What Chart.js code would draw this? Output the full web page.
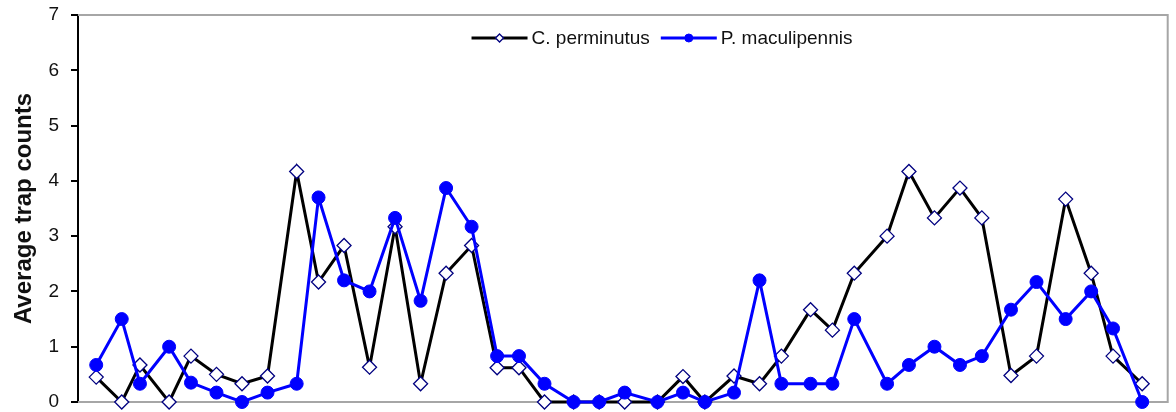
<!DOCTYPE html>
<html>
<head>
<meta charset="utf-8">
<title>Average trap counts</title>
<script src="https://cdn.jsdelivr.net/npm/chart.js@4/dist/chart.umd.min.js"></script>
<style>
  html, body { margin: 0; padding: 0; background: #ffffff; }
  #wrap { width: 1176px; height: 412px; }
</style>
</head>
<body>
<div id="wrap"><canvas id="trapChart" width="1176" height="412"></canvas></div>
<script>
// Sampling day of each trap collection (days from the first collection)
const sampleDays = [0, 7, 12, 20, 26, 33, 40, 47, 55, 61, 68, 75, 82, 89, 96, 103, 110, 116, 123, 131,
  138, 145, 154, 161, 167, 175, 182, 188, 196, 202, 208, 217, 223, 230, 237, 243, 251, 258, 266, 273, 279, 287];

// Average trap counts per collection
const cPerminutus = [0.45, 0, 0.67, 0, 0.83, 0.5, 0.33, 0.47, 4.17, 2.17, 2.83, 0.63, 3.17, 0.33, 2.33, 2.83, 0.62, 0.62, 0, 0,
  0, 0, 0, 0.46, 0, 0.47, 0.33, 0.83, 1.67, 1.3, 2.33, 3.0, 4.17, 3.33, 3.87, 3.33, 0.48, 0.83, 3.67, 2.33, 0.83, 0.33];
const pMaculipennis = [0.67, 1.5, 0.33, 1.0, 0.35, 0.17, 0, 0.17, 0.33, 3.7, 2.2, 2.0, 3.33, 1.83, 3.87, 3.17, 0.83, 0.83, 0.33, 0,
  0, 0.17, 0, 0.17, 0, 0.17, 2.2, 0.33, 0.33, 0.33, 1.5, 0.33, 0.67, 1.0, 0.67, 0.83, 1.67, 2.17, 1.5, 2.0, 1.33, 0];

const seriesNames = ['C. perminutus', 'P. maculipennis'];
const yTicks = [0, 1, 2, 3, 4, 5, 6, 7];
const yTitle = 'Average trap counts';

const FONT = "'Liberation Sans', Arial, Helvetica, sans-serif";
const BLACK_LINE = '#000000';
const DIAMOND_EDGE = '#000080';
const BLUE = '#0000ff';
const FRAME = '#a6a6a6';

const toPoints = vals => sampleDays.map((d, i) => ({ x: d, y: vals[i] }));

// Grey frame on the top, right and bottom of the plot area
const framePlugin = {
  id: 'plotFrame',
  beforeDatasetsDraw(chart) {
    const { ctx, chartArea: a } = chart;
    ctx.save();
    ctx.strokeStyle = FRAME;
    ctx.lineWidth = 2;
    ctx.beginPath();
    ctx.moveTo(a.left, a.top);
    ctx.lineTo(a.right, a.top);
    ctx.lineTo(a.right, a.bottom);
    ctx.lineTo(a.left, a.bottom);
    ctx.stroke();
    ctx.restore();
  }
};

function drawMarkerPath(ctx, style, x, y, r) {
  if (style === 'rectRot') {
    ctx.moveTo(x, y - r);
    ctx.lineTo(x + r, y);
    ctx.lineTo(x, y + r);
    ctx.lineTo(x - r, y);
    ctx.closePath();
  } else {
    ctx.arc(x, y, r, 0, Math.PI * 2);
  }
}

// Legend inside the plot: line sample with its marker, then the series name
const lineLegendPlugin = {
  id: 'lineLegend',
  afterDatasetsDraw(chart) {
    const { ctx } = chart;
    const o = chart.options.plugins.lineLegend;
    ctx.save();
    ctx.font = o.fontSize + 'px ' + FONT;
    ctx.textBaseline = 'middle';
    const items = chart.data.datasets.slice().sort((p, q) => p.legendIndex - q.legendIndex);
    const widths = items.map(ds => o.sampleLen + o.textGap + ctx.measureText(ds.label).width);
    const total = widths.reduce((s, w) => s + w, 0) + o.itemGap * (items.length - 1);
    let x = o.centerX - total / 2;
    const y = o.y;
    items.forEach((ds, i) => {
      ctx.strokeStyle = ds.borderColor;
      ctx.lineWidth = ds.borderWidth;
      ctx.beginPath();
      ctx.moveTo(x, y);
      ctx.lineTo(x + o.sampleLen, y);
      ctx.stroke();
      ctx.fillStyle = ds.pointBackgroundColor;
      ctx.strokeStyle = ds.pointBorderColor;
      ctx.lineWidth = ds.pointBorderWidth;
      ctx.beginPath();
      drawMarkerPath(ctx, ds.pointStyle, x + o.sampleLen / 2, y, o.markerRadius);
      ctx.fill();
      ctx.stroke();
      ctx.fillStyle = '#111111';
      ctx.textAlign = 'left';
      ctx.fillText(ds.label, x + o.sampleLen + o.textGap, y + 1);
      x += widths[i] + o.itemGap;
    });
    ctx.restore();
  }
};

new Chart(document.getElementById('trapChart'), {
  type: 'line',
  data: {
    datasets: [
      {
        label: seriesNames[0],
        legendIndex: 0,
        data: toPoints(cPerminutus),
        borderColor: BLACK_LINE,
        borderWidth: 3,
        pointStyle: 'rectRot',
        pointRadius: 7,
        pointBackgroundColor: '#ffffff',
        pointBorderColor: DIAMOND_EDGE,
        pointBorderWidth: 1.3,
        tension: 0,
        clip: false,
        order: 1
      },
      {
        label: seriesNames[1],
        legendIndex: 1,
        data: toPoints(pMaculipennis),
        borderColor: BLUE,
        borderWidth: 3,
        pointStyle: 'circle',
        pointRadius: 6.5,
        pointBackgroundColor: BLUE,
        pointBorderColor: BLUE,
        pointBorderWidth: 1,
        tension: 0,
        clip: false,
        order: 0
      }
    ]
  },
  options: {
    responsive: false,
    animation: false,
    devicePixelRatio: 1,
    layout: { padding: { top: 15, right: 3, bottom: 10, left: 0 } },
    scales: {
      x: {
        type: 'linear',
        display: false,
        min: -5,
        max: 294
      },
      y: {
        type: 'linear',
        min: 0,
        max: 7,
        afterFit(scale) {
          scale.width = 78;
          scale.paddingTop = 0;
          scale.paddingBottom = 0;
        },
        afterBuildTicks(scale) { scale.ticks = yTicks.map(v => ({ value: v })); },
        border: { display: true, color: '#000000', width: 2 },
        grid: {
          drawOnChartArea: false,
          drawTicks: true,
          tickLength: 7,
          color: '#000000',
          lineWidth: 2
        },
        ticks: {
          padding: 12,
          color: '#111111',
          font: { family: FONT, size: 19 }
        },
        title: {
          display: true,
          text: yTitle,
          color: '#111111',
          padding: { top: 10, bottom: 0 },
          font: { family: FONT, size: 24, weight: 'bold' }
        }
      }
    },
    plugins: {
      legend: { display: false },
      tooltip: { enabled: false },
      lineLegend: {
        centerX: 662,
        y: 38,
        sampleLen: 56,
        textGap: 4,
        itemGap: 11,
        markerRadius: 4,
        fontSize: 19
      }
    }
  },
  plugins: [framePlugin, lineLegendPlugin]
});
</script>
</body>
</html>
